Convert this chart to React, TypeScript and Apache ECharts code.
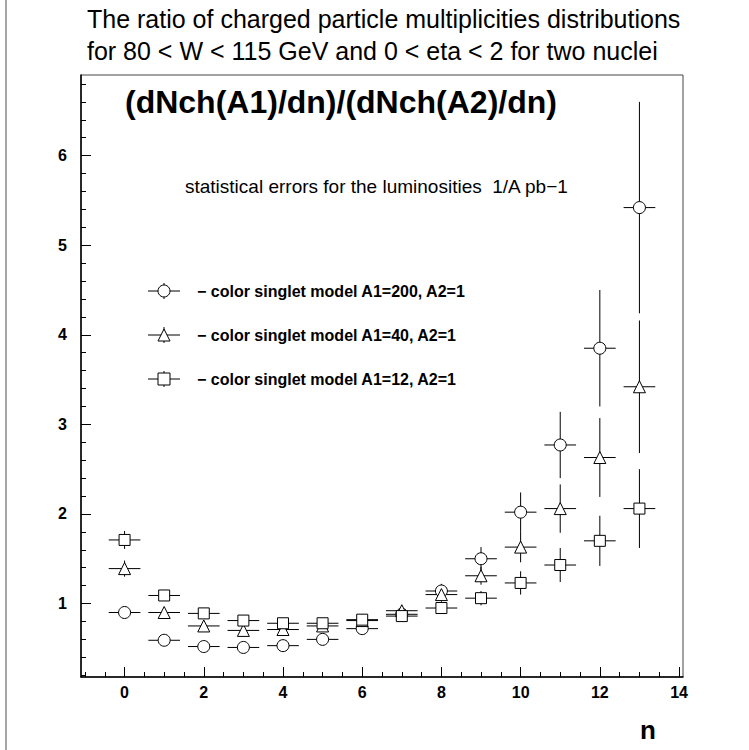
import React, { useEffect, useRef } from "react";
import * as echarts from "echarts";

// ---- data ----
const nValues = [0, 1, 2, 3, 4, 5, 6, 7, 8, 9, 10, 11, 12, 13];

// A1=200, A2=1 (circles)
const ratioA200 = [0.9, 0.59, 0.52, 0.51, 0.53, 0.6, 0.72, 0.88, 1.14, 1.5, 2.02, 2.77, 3.85, 5.42];
const errA200 = [0.03, 0.03, 0.03, 0.03, 0.04, 0.04, 0.05, 0.06, 0.08, 0.13, 0.22, 0.37, 0.65, 1.18];

// A1=40, A2=1 (triangles)
const ratioA40 = [1.39, 0.9, 0.75, 0.7, 0.71, 0.75, 0.81, 0.92, 1.1, 1.31, 1.63, 2.06, 2.63, 3.42];
const errA40 = [0.09, 0.05, 0.04, 0.04, 0.04, 0.04, 0.05, 0.06, 0.08, 0.1, 0.17, 0.27, 0.44, 0.74];

// A1=12, A2=1 (squares)
const ratioA12 = [1.71, 1.09, 0.89, 0.81, 0.78, 0.78, 0.82, 0.86, 0.95, 1.06, 1.23, 1.43, 1.7, 2.06];
const errA12 = [0.1, 0.06, 0.05, 0.04, 0.04, 0.04, 0.05, 0.05, 0.06, 0.08, 0.13, 0.19, 0.28, 0.44];

const xLabelValues = [0, 2, 4, 6, 8, 10, 12, 14];
const yLabelValues = [1, 2, 3, 4, 5, 6];

const titleLines = [
  "The ratio of charged particle multiplicities distributions",
  "for 80 < W < 115 GeV and 0 < eta < 2 for two nuclei",
];
const innerTitle = "(dNch(A1)/dn)/(dNch(A2)/dn)";
const noteText = "statistical errors for the luminosities  1/A pb\u22121";
const legendLabels = [
  "\u2212 color singlet model A1=200, A2=1",
  "\u2212 color singlet model A1=40, A2=1",
  "\u2212 color singlet model A1=12, A2=1",
];
const xAxisName = "n";

// ---- layout / style constants ----
const X_MIN = -1.1;
const X_MAX = 14.1;
const Y_MIN = 0.18;
const Y_MAX = 6.9;
const X_ERR = 0.4;
const SANS = "'Liberation Sans', Arial, sans-serif";

function minorTicks(from: number, to: number, step: number, skipEvery: number) {
  const out: number[] = [];
  const count = Math.round((to - from) / step);
  for (let i = 0; i <= count; i++) {
    const v = +(from + i * step).toFixed(4);
    if (Math.abs(v / skipEvery - Math.round(v / skipEvery)) < 1e-6) continue;
    out.push(v);
  }
  return out;
}

function errorBarSeries(vals: number[], errs: number[]) {
  return {
    type: "custom",
    xAxisIndex: 0,
    yAxisIndex: 0,
    silent: true,
    z: 2,
    encode: { x: 0, y: 1 },
    data: nValues.map((n, i) => [n, vals[i], errs[i]]),
    renderItem: (params: any, api: any) => {
      const x = api.value(0);
      const y = api.value(1);
      const e = api.value(2);
      const c = api.coord([x, y]);
      const t = api.coord([x, y + e]);
      const b = api.coord([x, y - e]);
      const l = api.coord([x - X_ERR, y]);
      const r = api.coord([x + X_ERR, y]);
      return {
        type: "group",
        children: [
          { type: "line", shape: { x1: c[0], y1: t[1], x2: c[0], y2: b[1] }, style: { stroke: "#000", lineWidth: 1 } },
          { type: "line", shape: { x1: l[0], y1: c[1], x2: r[0], y2: c[1] }, style: { stroke: "#000", lineWidth: 1 } },
        ],
      };
    },
  };
}

function markerSeries(vals: number[], symbol: string, size: number) {
  return {
    type: "scatter",
    xAxisIndex: 0,
    yAxisIndex: 0,
    z: 3,
    symbol,
    symbolSize: size,
    itemStyle: { color: "#fff", borderColor: "#000", borderWidth: 1, opacity: 1 },
    data: nValues.map((n, i) => [n, vals[i]]),
  };
}

const LEGEND_X = 164;
const LEGEND_Y = [291, 335, 379];

function legendGraphics() {
  const els: any[] = [];
  LEGEND_Y.forEach((y, i) => {
    els.push({ type: "line", shape: { x1: LEGEND_X - 16, y1: y, x2: LEGEND_X + 16, y2: y }, style: { stroke: "#000", lineWidth: 1 }, z: 10 });
    els.push({ type: "line", shape: { x1: LEGEND_X, y1: y - 8, x2: LEGEND_X, y2: y + 8 }, style: { stroke: "#000", lineWidth: 1 }, z: 10 });
    const st = { fill: "#fff", stroke: "#000", lineWidth: 1 };
    if (i === 0) els.push({ type: "circle", shape: { cx: LEGEND_X, cy: y, r: 6 }, style: st, z: 11 });
    if (i === 1)
      els.push({ type: "polygon", shape: { points: [[LEGEND_X, y - 6], [LEGEND_X + 6, y + 6], [LEGEND_X - 6, y + 6]] }, style: st, z: 11 });
    if (i === 2) els.push({ type: "rect", shape: { x: LEGEND_X - 6, y: y - 6, width: 12, height: 12 }, style: st, z: 11 });
    els.push({
      type: "text",
      x: 197,
      y,
      z: 11,
      style: { text: legendLabels[i], fill: "#000", fontFamily: SANS, fontWeight: "bold", fontSize: 16, textAlign: "left", textVerticalAlign: "middle" },
    });
  });
  return els;
}

export default function App() {
  const ref = useRef<HTMLDivElement>(null);
  useEffect(() => {
    if (!ref.current) return;
    const chart = echarts.init(ref.current, undefined, { renderer: "svg" });
    const grid = { left: 81, top: 75, width: 602, height: 602, show: true, borderColor: "#444", borderWidth: 1, backgroundColor: "#fff" };
    const xMinor = minorTicks(-1, 14, 0.5, 2);
    const yMinor = minorTicks(0.2, 6.8, 0.2, 1);
    const labelStyle = { color: "#000", fontFamily: SANS, fontWeight: "bold", fontSize: 16 };
    const option: any = {
      animation: false,
      backgroundColor: "#fff",
      grid,
      xAxis: [
        {
          type: "value",
          min: X_MIN,
          max: X_MAX,
          position: "bottom",
          splitLine: { show: false },
          axisLine: { show: true, onZero: false, lineStyle: { color: "#000", width: 1.5 } },
          axisTick: { show: true, inside: true, length: 10, customValues: xLabelValues, lineStyle: { color: "#000" } },
          axisLabel: { show: true, customValues: xLabelValues, margin: 7, ...labelStyle },
        },
        {
          type: "value",
          min: X_MIN,
          max: X_MAX,
          position: "bottom",
          splitLine: { show: false },
          axisLine: { show: false, onZero: false },
          axisTick: { show: true, inside: true, length: 5, customValues: xMinor, lineStyle: { color: "#000" } },
          axisLabel: { show: false },
        },
      ],
      yAxis: [
        {
          type: "value",
          min: Y_MIN,
          max: Y_MAX,
          position: "left",
          splitLine: { show: false },
          axisLine: { show: true, onZero: false, lineStyle: { color: "#000", width: 1.5 } },
          axisTick: { show: true, inside: true, length: 10, customValues: yLabelValues, lineStyle: { color: "#000" } },
          axisLabel: { show: true, customValues: yLabelValues, margin: 14, ...labelStyle },
        },
        {
          type: "value",
          min: Y_MIN,
          max: Y_MAX,
          position: "left",
          splitLine: { show: false },
          axisLine: { show: false, onZero: false },
          axisTick: { show: true, inside: true, length: 5, customValues: yMinor, lineStyle: { color: "#000" } },
          axisLabel: { show: false },
        },
      ],
      series: [
        errorBarSeries(ratioA200, errA200),
        errorBarSeries(ratioA40, errA40),
        errorBarSeries(ratioA12, errA12),
        markerSeries(ratioA200, "circle", 12),
        markerSeries(ratioA40, "triangle", 12),
        markerSeries(ratioA12, "rect", 11),
      ],
      graphic: [
        { type: "line", shape: { x1: 6, y1: 0, x2: 6, y2: 750 }, style: { stroke: "#888", lineWidth: 1.5 } },
        {
          type: "text",
          x: 87,
          y: 19,
          style: { text: titleLines[0], fill: "#000", fontFamily: SANS, fontSize: 25, textAlign: "left", textVerticalAlign: "middle" },
        },
        {
          type: "text",
          x: 87,
          y: 51,
          style: { text: titleLines[1], fill: "#000", fontFamily: SANS, fontSize: 25, textAlign: "left", textVerticalAlign: "middle" },
        },
        {
          type: "text",
          x: 125,
          y: 102,
          z: 10,
          style: { text: innerTitle, fill: "#000", fontFamily: SANS, fontWeight: "bold", fontSize: 32, textAlign: "left", textVerticalAlign: "middle" },
        },
        {
          type: "text",
          x: 185,
          y: 186,
          z: 10,
          style: { text: noteText, fill: "#000", fontFamily: SANS, fontSize: 19, textAlign: "left", textVerticalAlign: "middle" },
        },
        ...legendGraphics(),
        {
          type: "text",
          x: 648,
          y: 730,
          style: { text: xAxisName, fill: "#000", fontFamily: SANS, fontWeight: "bold", fontSize: 26, textAlign: "center", textVerticalAlign: "middle" },
        },
      ],
    };
    chart.setOption(option);
    return () => chart.dispose();
  }, []);
  return <div ref={ref} style={{ position: "fixed", left: 0, top: 0, width: 749, height: 750 }} />;
}
